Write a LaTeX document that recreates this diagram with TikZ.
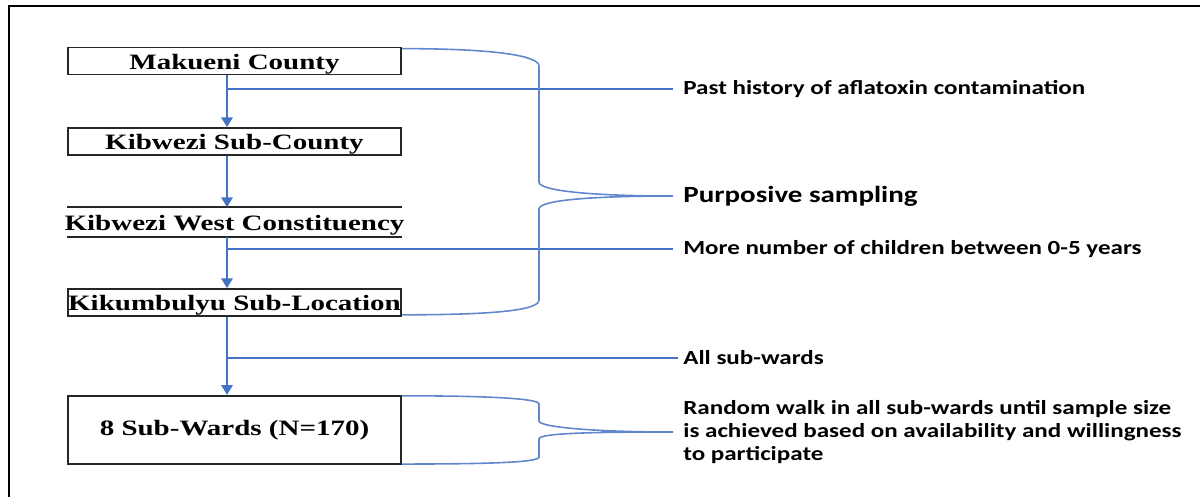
\documentclass[tikz,border=0pt]{standalone}
\usepackage{fontspec}
\usepackage{tikz}
\usetikzlibrary{positioning,arrows.meta}
\newfontfamily\boxfont{Liberation Serif}[FakeStretch=1.32]
\newfontfamily\notefont{Carlito}[FakeStretch=1.25]
\definecolor{flowblue}{HTML}{4472C4}
\newcommand{\lowtext}[1]{\raisebox{-1.7pt}[\height][\depth]{#1}}

\begin{document}
\begin{tikzpicture}[x=0.02cm, y=-0.02cm, node distance = 1.61cm, on grid,
stage/.style ={draw = black!85, line width = 1pt, minimum width = 6.66cm, minimum height = 0.54cm, inner sep = 0pt, font = \boxfont\bfseries\fontsize{12.5}{15}\selectfont},
note/.style ={anchor = west, inner xsep = 0.2cm, inner ysep = 0pt, align = left, font = \notefont\bfseries\fontsize{11.4}{13}\selectfont},
arr/.style ={flowblue, line width = 0.9pt, -{Triangle[length = 5.5pt, width = 6.5pt]}},
link/.style ={flowblue, line width = 0.6pt},
brace/.style ={flowblue!85, line width = 0.9pt}]
\useasboundingbox (0,0) rectangle (1200,497);
\draw[line width = 1.1pt] (9,497) -- (9,6) -- (1200,6);

\node[stage] (mak) at (234.5,61) {\lowtext{Makueni County}};
\node[stage] (ksc) [below = of mak] {\lowtext{Kibwezi Sub-County}};
\node[stage, draw = none, minimum height = 0.56cm] (kwc) [below = of ksc] {\makebox[6.66cm]{\lowtext{Kibwezi West Constituency}}};
\node[stage] (kik) [below = of kwc] {\lowtext{Kikumbulyu Sub-Location}};
\node[stage, minimum height = 1.37cm] (ward) [below = 2.55cm of kik] {8 Sub-Wards (N=170)};
\draw[draw = black!85, line width = 1pt] (kwc.north west) -- (kwc.north east)
      (kwc.south west) -- (kwc.south east);

\coordinate (spine) at (227,0);
\node[note] (past) at (673,89) {Past history of aflatoxin contamination};
\node[note, font = \notefont\bfseries\fontsize{13.2}{15}\selectfont] (purp) at (673,196) {Purposive sampling};
\node[note] (more) at (673,249) {More number of children between 0-5 years};
\node[note, inner xsep = 0.1cm] (all) at (678,358) {All sub-wards};
\node[note] (walk) at (673,432) {Random walk in all sub-wards until sample size\\is achieved based on availability and willingness\\to participate};

\path[arr] (mak.south -| spine) edge (ksc.north -| spine)
           (ksc.south -| spine) edge (kwc.north -| spine)
           (kwc.south -| spine) edge (kik.north -| spine)
           (kik.south -| spine) edge (ward.north -| spine);
\path[link] (spine |- past.west) edge (past.west)
            (spine |- more.west) edge (more.west)
            (spine |- all.west) edge (all.west);

% braces
\draw[brace] ([yshift = -0.04cm]mak.north east) .. controls +(95,0) and +(0,-10) .. (539,66)
   -- (539,182) .. controls +(0,9) and +(-80,0) .. (purp.west)
   .. controls +(-80,0) and +(0,-9) .. (539,209)
   -- (539,300) .. controls +(0,10) and +(95,0) .. ([yshift = 0.04cm]kik.south east);
\draw[brace] ([yshift = -0.02cm]ward.north east) .. controls +(95,0) and +(0,-5) .. (539,404)
   -- (539,421) .. controls +(0,6) and +(-80,0) .. (walk.west)
   .. controls +(-80,0) and +(0,-6) .. (539,439)
   -- (539,457) .. controls +(0,5) and +(95,0) .. ([yshift = 0.02cm]ward.south east);
\end{tikzpicture}
\end{document}
